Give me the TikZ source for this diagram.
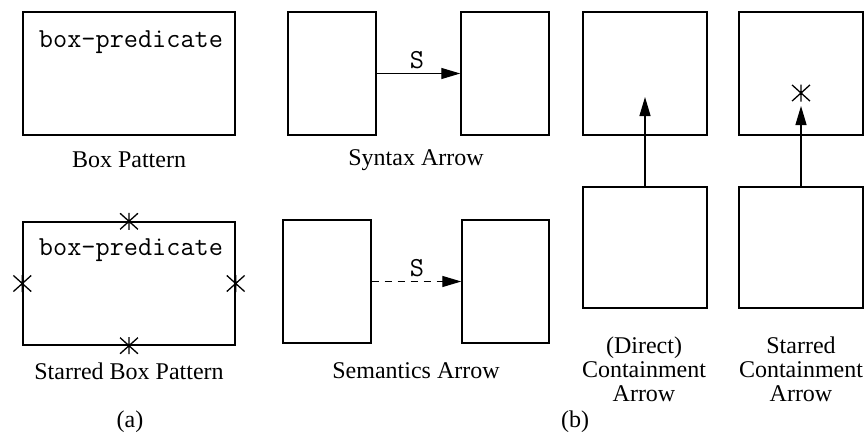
\documentclass[tikz,border=0pt]{standalone}
\usepackage{fontspec}
\setmainfont{Liberation Serif}
\usetikzlibrary{arrows.meta, positioning}
\newcommand{\bigfont}{\fontsize{24}{24}\selectfont}
\newcommand{\monofont}{\fontsize{27.5}{27.5}\selectfont\ttfamily}

\begin{document}
\begin{tikzpicture}[
  x=1pt, y=-1pt,
  box/.style={draw, line width=1.4pt, inner sep=0pt},
  boxtext/.style={font=\monofont, inner sep=0pt},
  caption/.style={font=\bigfont, align=center, inner sep=0pt},
  starmark/.style={inner sep=0pt, minimum size=26pt, path picture={
    \draw[line width=1.3pt] (path picture bounding box.center) +(90:8.5) -- +(270:8.5)
      +(42:12) -- +(222:12) +(138:12) -- +(318:12);}},
  link/.style={line width=1.2pt, -{Triangle[length=19pt, width=11pt]}}
]
\useasboundingbox (0,0) rectangle (864,437);

% Box patterns
\node[box, minimum width=212, minimum height=123] (bpat) at (129,73.5) {};
\node[boxtext] (bpattext) at (131,42) {box-predicate};
\node[caption] (bpatcap) at (129,160) {Box Pattern};

\node[box, minimum width=212, minimum height=123] (sbpat) at (129,283.5) {};
\node[boxtext] (sbpattext) at (131,250) {box-predicate};
\foreach \side in {north, south, east, west} {
  \node[starmark] (star-\side) at (sbpat.\side) {};
}
\node[caption] (sbpatcap) at (129,371) {Starred Box Pattern};

% Syntax and semantics arrows
\node[box, minimum width=88, minimum height=123] (synl) at (332,73.5) {};
\node[box, minimum width=88, minimum height=123] (synr) at (505,73.5) {};
\draw[link] (synl) -- (synr);
\node[boxtext] (syns) at (417,60) {S};
\node[caption] (syncap) at (416,160) {Syntax Arrow};

\node[box, minimum width=88, minimum height=123] (seml) at (327,281.5) {};
\node[box, minimum width=87, minimum height=123] (semr) at (505.5,281.5) {};
\draw[link, dash pattern=on 7pt off 6pt] (seml) -- (semr);
\node[boxtext] (sems) at (417,268) {S};
\node[caption] (semcap) at (416,371) {Semantics Arrow};

% Containment arrows
\node[box, minimum width=124, minimum height=123] (dtop) at (645,73.5) {};
\node[box, minimum width=124, minimum height=121] (dbot) at (645,247.5) {};
\coordinate (dtip) at (645,97);
\draw[link] (dbot.north) -- (dtip);
\node[caption] (dcap) at (644,369) {(Direct)\\Containment\\Arrow};

\node[box, minimum width=124, minimum height=123] (stop) at (801,73.5) {};
\node[box, minimum width=124, minimum height=121] (sbot) at (801,247.5) {};
\coordinate (stip) at (801,106);
\draw[link] (sbot.north) -- (stip);
\node[starmark] (cstar) at (801,93) {};
\node[caption] (scap) at (801,369) {Starred\\Containment\\Arrow};

% Part labels
\node[caption] (parta) at (130,422) {(a)};
\node[caption] (partb) at (575,422) {(b)};
\end{tikzpicture}
\end{document}
